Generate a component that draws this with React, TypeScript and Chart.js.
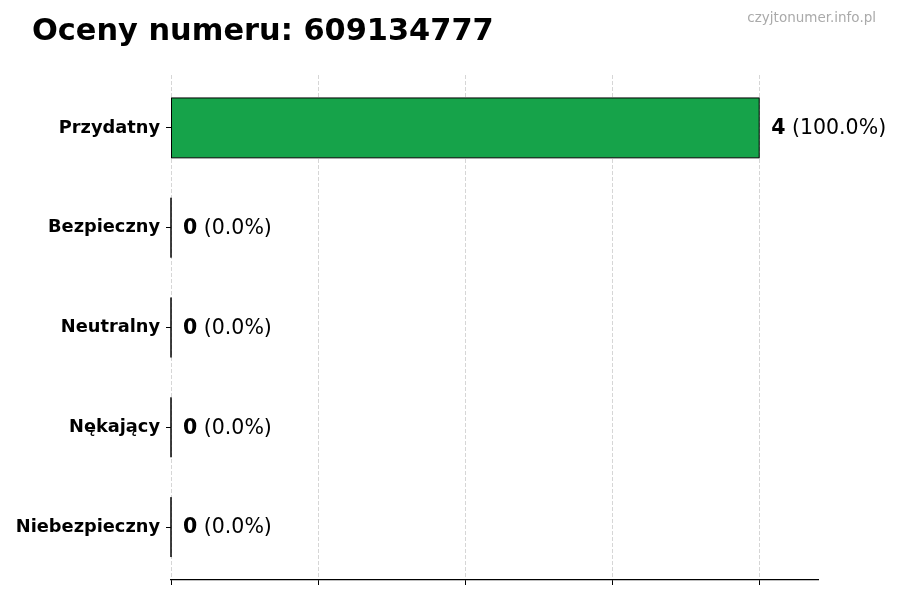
import { useEffect, useRef } from "react"
import { Chart, registerables } from "chart.js"

Chart.register(...registerables)

const categories = ["Przydatny", "Bezpieczny", "Neutralny", "Nękający", "Niebezpieczny"]
const counts = [4, 0, 0, 0, 0]
const percents = [100.0, 0.0, 0.0, 0.0, 0.0]
const xTicks = [0, 1, 2, 3, 4]
const chartTitle = "Oceny numeru: 609134777"
const watermark = "czyjtonumer.info.pl"
const barColor = "#16a34a"
const fontFamily = "'DejaVu Sans', sans-serif"

// labels next to the bars, plus title and watermark on top
const overlayPlugin = {
  id: "overlay",
  afterDatasetsDraw(chart: any) {
    const { ctx } = chart
    const meta = chart.getDatasetMeta(0)
    ctx.save()
    meta.data.forEach((bar: any, i: number) => {
      const { x, y, base, height } = bar.getProps(["x", "y", "base", "height"], true)
      ctx.strokeStyle = "#000"
      ctx.lineWidth = 1
      ctx.strokeRect(Math.min(base, x), y - height / 2, Math.abs(x - base), height)

      const tx = Math.max(base, x) + 12
      const num = String(counts[i])
      ctx.fillStyle = "#000"
      ctx.textAlign = "left"
      ctx.textBaseline = "middle"
      ctx.font = `bold 20.5px ${fontFamily}`
      ctx.fillText(num, tx, y + 1)
      const w = ctx.measureText(num).width
      ctx.font = `20.5px ${fontFamily}`
      ctx.fillText(` (${percents[i].toFixed(1)}%)`, tx + w, y + 1)
    })
    ctx.restore()
  },
  afterDraw(chart: any) {
    const { ctx } = chart
    ctx.save()
    ctx.textBaseline = "alphabetic"
    ctx.textAlign = "left"
    ctx.fillStyle = "#000"
    ctx.font = `bold 30.4px ${fontFamily}`
    ctx.fillText(chartTitle, 32, 40)
    ctx.textAlign = "right"
    ctx.fillStyle = "#aaaaaa"
    ctx.font = `13.5px ${fontFamily}`
    ctx.fillText(watermark, 876, 22)
    ctx.restore()
  },
}

function RatingsChart() {
  const chartRef = useRef<HTMLCanvasElement>(null)
  const chartInstance = useRef<Chart | null>(null)

  useEffect(() => {
    if (!chartRef.current) return
    if (chartInstance.current) chartInstance.current.destroy()

    const ctx = chartRef.current.getContext("2d")
    if (!ctx) return

    const last = categories.length - 1

    chartInstance.current = new Chart(ctx, {
      type: "bar",
      data: {
        datasets: [
          {
            data: counts.map((c, i) => ({ x: c, y: i })),
            backgroundColor: barColor,
            borderWidth: 0,
            barPercentage: 0.6,
            categoryPercentage: 1,
          },
        ],
      },
      options: {
        animation: false,
        responsive: true,
        maintainAspectRatio: false,
        indexAxis: "y",
        layout: { padding: { top: 75, right: 82, left: 0, bottom: 0 } },
        plugins: {
          legend: { display: false },
          tooltip: { enabled: false },
        },
        scales: {
          x: {
            type: "linear",
            min: 0,
            max: Math.max(...counts) * 1.1,
            afterBuildTicks: (scale: any) => {
              scale.ticks = xTicks.map((v) => ({ value: v }))
            },
            afterFit: (scale: any) => {
              scale.height = 20
            },
            ticks: { display: false },
            grid: {
              color: "#d6d6d6",
              lineWidth: 1,
              tickColor: "#000",
              tickLength: 5,
              tickWidth: 1,
            },
            border: { display: true, color: "#000", width: 1.2, dash: [4, 2] },
          },
          y: {
            type: "linear",
            reverse: true,
            offset: false,
            // matplotlib-style margins: bars span -0.3..last+0.3, plus 5% padding
            min: -0.3 - 0.05 * (last + 0.6),
            max: last + 0.3 + 0.05 * (last + 0.6),
            afterBuildTicks: (scale: any) => {
              scale.ticks = categories.map((_, i) => ({ value: i }))
            },
            afterFit: (scale: any) => {
              scale.width = 171
            },
            grid: {
              display: true,
              offset: false,
              drawOnChartArea: false,
              tickColor: "#000",
              tickLength: 5,
              tickWidth: 1,
            },
            border: { display: false },
            ticks: {
              color: "#000",
              padding: 6,
              font: { family: fontFamily, weight: "bold", size: 17.8 },
              callback: (value: any) => categories[value] ?? "",
            },
          },
        },
      },
      plugins: [overlayPlugin],
    })

    return () => {
      if (chartInstance.current) {
        chartInstance.current.destroy()
        chartInstance.current = null
      }
    }
  }, [])

  return <canvas ref={chartRef} />
}

export default function App() {
  return (
    <div style={{ position: "absolute", left: 0, top: 0, width: 900, height: 600, background: "#fff" }}>
      <RatingsChart />
    </div>
  )
}
